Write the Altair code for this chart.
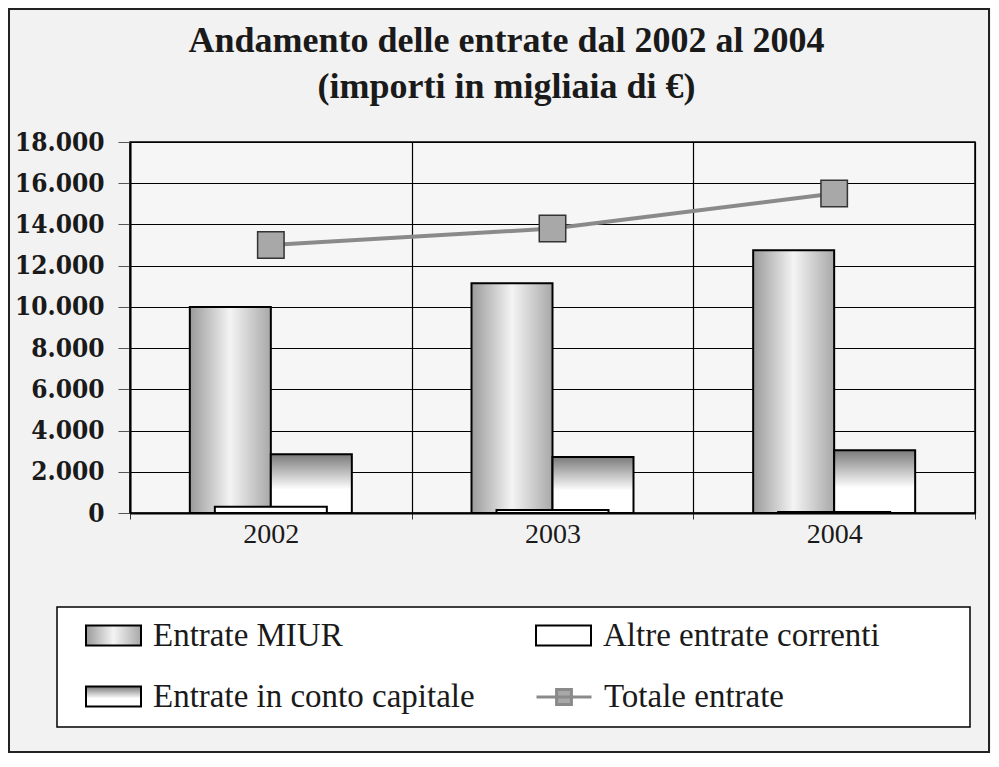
import altair as alt
import pandas as pd

anni = ["2002", "2003", "2004"]
entrate_miur = [10000, 11150, 12750]
altre_correnti = [300, 150, 50]
conto_capitale = [2850, 2720, 3050]
totale_entrate = [13000, 13800, 15500]
serie_nomi = ["Entrate MIUR", "Altre entrate correnti", "Entrate in conto capitale", "Totale entrate"]
y_ticks = [0, 2000, 4000, 6000, 8000, 10000, 12000, 14000, 16000, 18000]
titolo = ["Andamento delle entrate dal 2002 al 2004", "(importi in migliaia di €)"]


def tab(nome, valori):
    return pd.DataFrame({"anno": anni, "valore": valori, "serie": nome})


SERIF = "'Liberation Serif', 'Times New Roman', Times, serif"
RECT_PATH = "M-1,-0.36L1,-0.36L1,0.36L-1,0.36Z"
LINE_PATH = "M-1,0H1M-0.27,-0.27H0.27V0.27H-0.27Z"

x_enc = alt.X(
    "anno:N",
    scale=alt.Scale(paddingInner=0, paddingOuter=0),
    axis=alt.Axis(
        title=None, labelAngle=0, tickBand="extent", grid=True, gridColor="black",
        gridWidth=1.2, labelFont=SERIF, labelFontSize=28, labelColor="#1a1a1a",
        labelPadding=1, tickSize=6, tickColor="#333", domainColor="black", domainWidth=2,
    ),
)
y_enc = alt.Y(
    "valore:Q",
    scale=alt.Scale(domain=[0, 18000]),
    axis=alt.Axis(
        title=None, values=y_ticks,
        labelExpr="replace(format(datum.value, ','), ',', '.')",
        labelFont="'DejaVu Serif Condensed', 'DejaVu Serif', serif", labelFontWeight="bold",
        labelFontSize=26, labelColor="#1a1a1a", labelPadding=14, tickSize=12,
        tickColor="#555", domainColor="black", domainWidth=2, gridColor="black",
        gridWidth=1.2,
    ),
)


def leg(lx, ly, path, fillc, sw=2):
    return alt.Legend(
        orient="none", legendX=lx, legendY=ly, title=None, symbolType=path,
        symbolSize=3025, symbolFillColor=fillc, symbolStrokeWidth=sw,
        labelFont=SERIF, labelFontSize=33, labelColor="#1a1a1a", labelOffset=11,
        padding=0, labelLimit=0,
    )


grad_miur = alt.LinearGradient(
    gradient="linear", x1=0, y1=0, x2=1, y2=0,
    stops=[alt.GradientStop(offset=0, color="#9a9a9a"),
           alt.GradientStop(offset=0.5, color="#f4f4f4"),
           alt.GradientStop(offset=1, color="#a8a8a8")],
)
grad_cap = alt.LinearGradient(
    gradient="linear", x1=0, y1=0, x2=0, y2=1,
    stops=[alt.GradientStop(offset=0, color="#7a7a7a"),
           alt.GradientStop(offset=0.6, color="#ffffff"),
           alt.GradientStop(offset=1, color="#ffffff")],
)

one = pd.DataFrame({"k": [0]})
outer = alt.Chart(one).mark_rect(fillOpacity=0, stroke="#222", strokeWidth=2).encode(
    x=alt.value(-121), x2=alt.value(859), y=alt.value(-133), y2=alt.value(610)
)
legbox = alt.Chart(one).mark_rect(fill="white", stroke="black", strokeWidth=1.5).encode(
    x=alt.value(-73), x2=alt.value(840), y=alt.value(465), y2=alt.value(585)
)

bars_miur = alt.Chart(tab(serie_nomi[0], entrate_miur)).mark_bar(
    width=81, xOffset=-40.5, fill=grad_miur, strokeWidth=2
).encode(
    x=x_enc, y=y_enc,
    stroke=alt.Stroke("serie:N", scale=alt.Scale(range=["black"]),
                      legend=leg(-45, 465, RECT_PATH, "#d0d0d0")),
)
bars_cap = alt.Chart(tab(serie_nomi[2], conto_capitale)).mark_bar(
    width=81, xOffset=40.5, fill=grad_cap, strokeWidth=2
).encode(
    x=x_enc, y=y_enc,
    stroke=alt.Stroke("serie:N", scale=alt.Scale(range=["black"]),
                      legend=leg(-45, 526, RECT_PATH, "#b0b0b0")),
)
bars_altre = alt.Chart(tab(serie_nomi[1], altre_correnti)).mark_bar(
    width=112, fill="white", strokeWidth=2
).encode(
    x=x_enc, y=y_enc,
    stroke=alt.Stroke("serie:N", scale=alt.Scale(range=["black"]),
                      legend=leg(405, 465, RECT_PATH, "white")),
)
linea = alt.Chart(tab(serie_nomi[3], totale_entrate)).mark_line(strokeWidth=4).encode(
    x=x_enc, y=y_enc,
    stroke=alt.Stroke("serie:N", scale=alt.Scale(range=["#8a8a8a"]),
                      legend=leg(405, 526, LINE_PATH, "#a8a8a8", sw=3)),
)
punti = alt.Chart(tab(serie_nomi[3], totale_entrate)).mark_point(
    shape="square", filled=True, size=700, fill="#a8a8a8", stroke="#333",
    strokeWidth=1.5, opacity=1
).encode(x=x_enc, y=y_enc)

chart = alt.layer(outer, legbox, bars_miur, bars_cap, bars_altre, linea, punti).resolve_scale(
    stroke="independent"
).properties(
    width=845, height=371,
    autosize=alt.AutoSizeParams(type="none"),
    padding={"left": 122, "top": 134, "right": 16, "bottom": 240},
    background="#f2f2f2",
    title=alt.TitleParams(
        titolo, font=SERIF, fontSize=36, fontWeight="bold", color="#1a1a1a",
        anchor="middle", dx=-46, dy=120, offset=22, lineHeight=46,
    ),
).configure_view(stroke="black", strokeWidth=1.5, fill="#f6f6f6")

chart.save("out.html", embed_options={"renderer": "svg", "actions": False})
